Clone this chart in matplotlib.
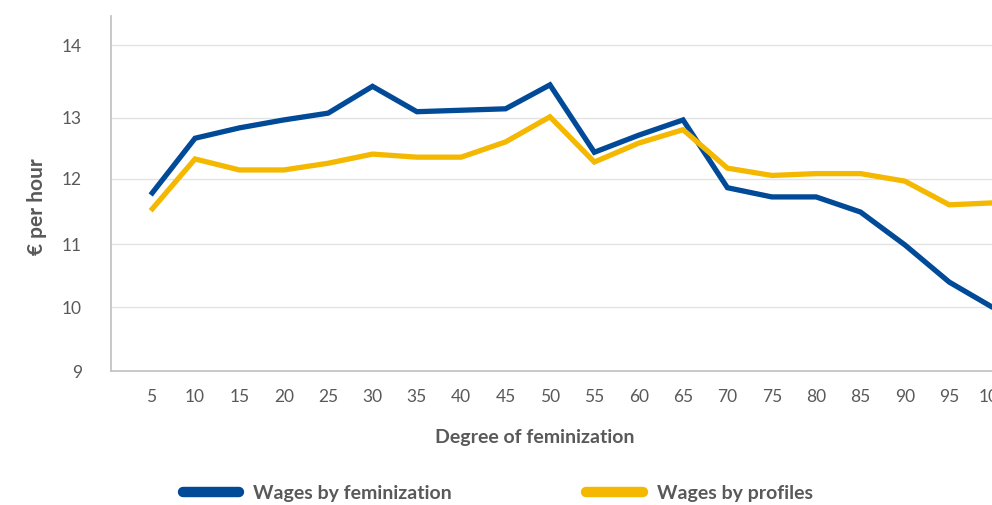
import numpy as np
import matplotlib
matplotlib.use("Agg")
import matplotlib.pyplot as plt

plt.rcParams['font.family'] = ['Lato', 'DejaVu Sans']

# Data
degrees = ['5', '10', '15', '20', '25', '30', '35', '40', '45', '50',
           '55', '60', '65', '70', '75', '80', '85', '90', '95', '100']
wages_feminization = [11.75, 12.66, 12.83, 12.96, 13.06, 13.43, 13.08, 13.10, 13.12, 13.45,
                      12.43, 12.71, 12.96, 11.86, 11.72, 11.72, 11.49, 10.99, 10.40, 9.99]
wages_profiles = [11.51, 12.32, 12.14, 12.14, 12.25, 12.40, 12.35, 12.35, 12.60, 13.01,
                  12.27, 12.58, 12.80, 12.17, 12.05, 12.08, 12.08, 11.96, 11.60, 11.63]
y_ticks = [9, 10, 11, 12, 13, 14]

# the original axis has unevenly spaced gridlines; reproduce with a piecewise scale
scale_vals = [8, 9, 10, 11, 12, 13, 14, 15]
scale_pos = [-63.7, 0, 63.7, 126.7, 192.5, 253.5, 326.0, 398.5]

def fwd(v):
    return np.interp(v, scale_vals, scale_pos)

def inv(p):
    return np.interp(p, scale_pos, scale_vals)

blue = '#004A98'
yellow = '#F5B800'
grey = '#595959'

fig = plt.figure(figsize=(9.92, 5.05), dpi=100)
ax = fig.add_axes([111 / 992, 134 / 505, 904.8 / 992, 355 / 505])

x = np.arange(len(degrees))
ax.plot(x, wages_feminization, color=blue, lw=3.8, label='Wages by feminization',
        solid_joinstyle='miter', solid_capstyle='butt')
ax.plot(x, wages_profiles, color=yellow, lw=3.8, label='Wages by profiles',
        solid_joinstyle='miter', solid_capstyle='butt')

ax.set_yscale('function', functions=(fwd, inv))
ax.set_ylim(9, 14.40)
ax.set_xlim(-0.894, 19.5)
ax.set_yticks(y_ticks)
ax.set_yticklabels([str(t) for t in y_ticks])
ax.set_xticks(x)
ax.set_xticklabels(degrees)
ax.yaxis.set_minor_locator(matplotlib.ticker.NullLocator())

ax.grid(axis='y', color='#e3e3e3', lw=1)
ax.set_axisbelow(True)
for s in ['top', 'right']:
    ax.spines[s].set_visible(False)
for s in ['left', 'bottom']:
    ax.spines[s].set_color('#c4c4c4')
    ax.spines[s].set_linewidth(1.3)

ax.tick_params(axis='both', length=0, labelsize=12.5, colors=grey)
ax.tick_params(axis='y', pad=21)
ax.tick_params(axis='x', pad=13)

ax.set_ylabel('€ per hour', fontsize=15, fontweight='bold', color=grey)
ax.yaxis.set_label_coords(-(111 - 47) / 904.8, (371 - 207) / 355)
ax.set_xlabel('Degree of feminization', fontsize=14, fontweight='bold', color=grey)
ax.xaxis.set_label_coords((535 - 111) / 904.8, -(429 - 371) / 355)

leg = fig.legend(loc='center left', bbox_to_anchor=(165 / 992, 1 - 493 / 505), ncol=2,
                 frameon=False, handlelength=2.9, handletextpad=0.75,
                 columnspacing=6.9, labelcolor=grey,
                 prop={'weight': 'bold', 'size': 14})
for line in leg.get_lines():
    line.set_linewidth(7.5)
    line.set_solid_capstyle('round')

fig.savefig('out.png', dpi=100)
